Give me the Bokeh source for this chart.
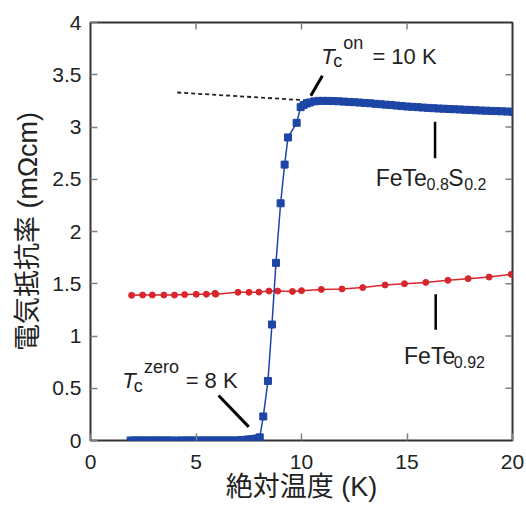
from bokeh.plotting import figure
from bokeh.models import Label, FixedTicker, Range1d
from bokeh.embed import file_html
from bokeh.resources import INLINE

# ---- data ----
fes_T = [1.9, 2.05, 2.2, 2.35, 2.5, 2.65, 2.8, 2.95, 3.1, 3.25, 3.4, 3.55, 3.7, 3.85,
         4.1, 4.3, 4.45, 4.6, 4.75, 4.9, 5.05, 5.2, 5.35, 5.5, 5.65, 5.8, 5.95, 6.1,
         6.25, 6.4, 6.55, 6.7, 6.85, 7.0, 7.15, 7.3, 7.45, 7.6, 7.75, 7.9,
         8.02, 8.19, 8.41, 8.60, 8.79, 9.01, 9.20, 9.36, 9.77, 9.96,
         10.1, 10.25, 10.4, 10.6, 10.8, 11.0, 11.25, 11.5, 11.75, 12.0, 12.25, 12.5,
         12.75, 13.0, 13.25, 13.5, 13.75, 14.0, 14.25, 14.5, 14.75, 15.0, 15.25, 15.5,
         15.75, 16.0, 16.25, 16.5, 16.75, 17.0, 17.25, 17.5, 17.75, 18.0, 18.25, 18.5,
         18.75, 19.0, 19.25, 19.5, 19.75, 20.0]
fes_rho = [0.0, 0.0, 0.0, 0.0, 0.0, 0.0, 0.0, 0.0, 0.0, 0.0, 0.0, 0.0, 0.0, 0.0,
           0.0, 0.0, 0.0, 0.0, 0.0, 0.0, 0.0, 0.0, 0.0, 0.0, 0.0, 0.0, 0.0, 0.0,
           0.0, 0.0, 0.0, 0.0, 0.0, 0.0, 0.005, 0.005, 0.01, 0.01, 0.015, 0.02,
           0.03, 0.23, 0.57, 1.11, 1.70, 2.27, 2.64, 2.90, 3.04, 3.19,
           3.21, 3.225, 3.235, 3.245, 3.25, 3.25, 3.25, 3.248, 3.246, 3.243, 3.24, 3.237,
           3.234, 3.23, 3.227, 3.222, 3.218, 3.214, 3.21, 3.205, 3.2, 3.196, 3.193, 3.19,
           3.186, 3.183, 3.18, 3.177, 3.175, 3.172, 3.17, 3.168, 3.165, 3.163, 3.16, 3.158,
           3.156, 3.154, 3.152, 3.15, 3.148, 3.146]

fete_T = [1.95, 2.47, 2.93, 3.48, 3.98, 4.46, 5.01, 5.49, 5.90, 5.94, 6.99, 7.51, 7.98,
          8.46, 8.87, 9.57, 10.00, 10.94, 11.92, 12.90, 13.96, 14.88, 15.89, 16.94,
          17.90, 18.89, 19.94]
fete_rho = [1.389, 1.392, 1.392, 1.392, 1.392, 1.396, 1.399, 1.40, 1.408, 1.40, 1.418,
            1.418, 1.42, 1.43, 1.43, 1.427, 1.434, 1.446, 1.45, 1.463, 1.488, 1.50,
            1.513, 1.533, 1.549, 1.564, 1.59]

extrap_T = [4.11, 16.37]
extrap_rho = [3.33, 3.18]

x_ticks = [0, 5, 10, 15, 20]
y_ticks = [0, 0.5, 1, 1.5, 2, 2.5, 3, 3.5, 4]
y_tick_labels = ["0", "0.5", "1", "1.5", "2", "2.5", "3", "3.5", "4"]

x_title = "絶対温度 (K)"
y_title = "電気抵抗率 (mΩcm)"

BLUE = "#1d45a6"
RED = "#d8262c"
LATIN = "Liberation Sans"
MIXED = "Liberation Sans, Noto Sans CJK JP"
TICK_COLOR = "#808080"
TICK_LEN = 7  # px

p = figure(frame_width=422, frame_height=418, output_backend="svg",
           toolbar_location=None, x_range=Range1d(0, 20), y_range=Range1d(0, 4),
           min_border_left=90, min_border_right=14, min_border_top=22,
           min_border_bottom=65)
p.grid.visible = False
p.outline_line_color = "#333333"
p.outline_line_width = 2
p.background_fill_color = "white"
p.border_fill_color = "white"

for ax, ticks in ((p.xaxis[0], x_ticks), (p.yaxis[0], y_ticks)):
    ax.ticker = FixedTicker(ticks=ticks)
    ax.axis_line_color = None
    ax.major_tick_in = TICK_LEN
    ax.major_tick_out = 0
    ax.minor_tick_in = 0
    ax.minor_tick_out = 0
    ax.major_tick_line_color = TICK_COLOR
    ax.major_tick_line_width = 1.5
    ax.major_label_text_font = LATIN
    ax.major_label_text_font_size = "21px"
    ax.major_label_text_color = "#222222"
p.yaxis[0].major_label_overrides = {t: l for t, l in zip(y_ticks, y_tick_labels)}
p.xaxis[0].major_label_standoff = 14
p.yaxis[0].major_label_standoff = 9

for ax, txt in ((p.xaxis[0], x_title), (p.yaxis[0], y_title)):
    ax.axis_label = txt
    ax.axis_label_text_font = MIXED
    ax.axis_label_text_font_size = "27px"
    ax.axis_label_text_font_style = "normal"
    ax.axis_label_text_color = "#222222"
p.xaxis[0].axis_label_standoff = 0
p.yaxis[0].axis_label_standoff = 6

# mirror ticks on the top and right edges of the frame
x0, x1 = p.x_range.start, p.x_range.end
y0, y1 = p.y_range.start, p.y_range.end
dy = TICK_LEN * (y1 - y0) / 418
dx = TICK_LEN * (x1 - x0) / 422
top_t = x_ticks[1:-1]
p.segment(x0=top_t, y0=[y1] * len(top_t), x1=top_t, y1=[y1 - dy] * len(top_t),
          line_color=TICK_COLOR, line_width=1.5)
right_t = y_ticks[1:-1]
p.segment(x0=[x1] * len(right_t), y0=right_t, x1=[x1 - dx] * len(right_t), y1=right_t,
          line_color=TICK_COLOR, line_width=1.5)

# extrapolation dashed line
p.line(extrap_T, extrap_rho, line_color="#222222", line_width=1.8, line_dash="4 3")

# data series
p.line(fete_T, fete_rho, line_color=RED, line_width=1.5)
p.scatter(fete_T, fete_rho, marker="circle", size=6, fill_color=RED, line_color=RED)
p.line(fes_T, fes_rho, line_color=BLUE, line_width=1.5)
p.scatter(fes_T, fes_rho, marker="square", size=7, fill_color=BLUE, line_color=BLUE)

# leader lines
p.line([10.99, 10.44], [3.49, 3.30], line_color="black", line_width=3)
p.line([6.07, 7.50], [0.43, 0.13], line_color="black", line_width=3)
p.line([16.33, 16.33], [3.05, 2.70], line_color="black", line_width=2.5)
p.line([16.36, 16.36], [1.40, 1.06], line_color="black", line_width=2.5)

TEXT_SHIFT = 8 * (y1 - y0) / 418  # raise labels to sit on the reference baselines

def lab(x, y, text, size, style="normal"):
    p.add_layout(Label(x=x, y=y + TEXT_SHIFT, text=text, text_font=LATIN,
                       text_font_size=size, text_font_style=style,
                       text_color="#222222", text_baseline="alphabetic",
                       text_align="left"))

# Tc on
lab(10.94, 3.60, "T", "22px", "italic")
lab(11.51, 3.556, "c", "18px")
lab(11.98, 3.73, "on", "18px")
lab(13.36, 3.60, "= 10 K", "22px")
# Tc zero
lab(1.50, 0.497, "T", "22px", "italic")
lab(2.05, 0.449, "c", "18px")
lab(2.53, 0.624, "zero", "18px")
lab(4.51, 0.497, "= 8 K", "22px")
# FeTe0.8S0.2
lab(13.52, 2.44, "FeTe", "23px")
lab(15.93, 2.377, "0.8", "16px")
lab(16.95, 2.44, "S", "23px")
lab(17.71, 2.377, "0.2", "16px")
# FeTe0.92
lab(14.86, 0.736, "FeTe", "23px")
lab(17.22, 0.672, "0.92", "16px")

open("out.html", "w").write(file_html(p, INLINE))
